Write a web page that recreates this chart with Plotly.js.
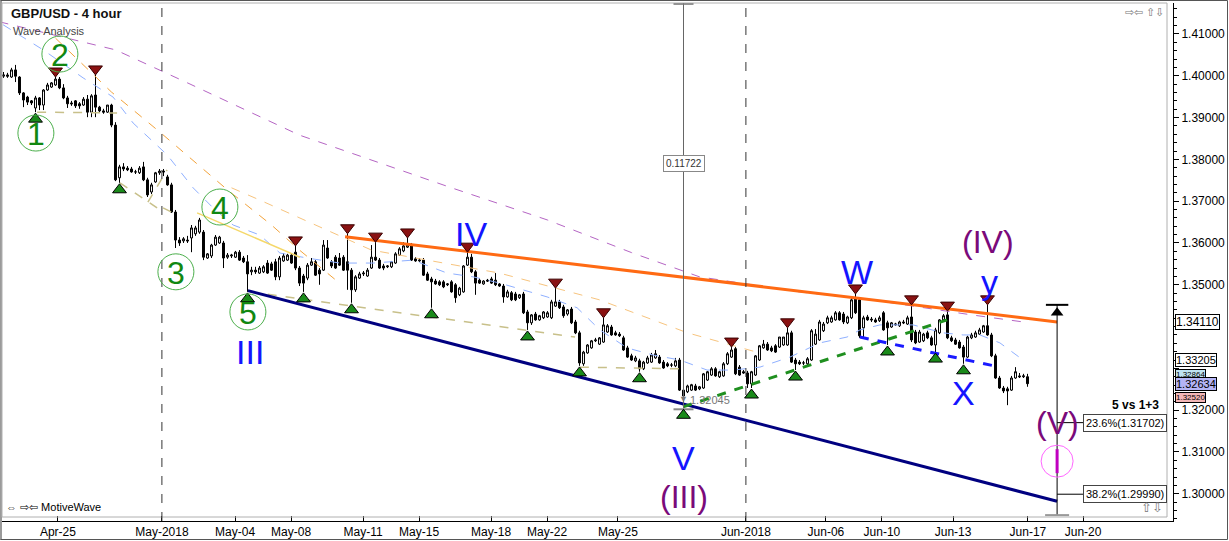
<!DOCTYPE html>
<html><head><meta charset="utf-8">
<script src="https://cdn.plot.ly/plotly-3.0.1.min.js"></script>
<style>html,body{margin:0;padding:0;background:#fff;}#chart{width:1229px;height:541px;}</style>
</head><body><div id="chart"></div>
<script>
// ---------------- DATA ----------------
const openP = [1.3999,1.4002,1.3997,1.4014,1.3997,1.3959,1.3949,1.3940,1.3923,1.3947,1.3930,1.3966,1.3973,1.3978,1.3992,1.3971,1.3947,1.3935,1.3940,1.3933,
1.3930,1.3944,1.3913,1.3954,1.3925,1.3916,1.3913,1.3930,1.3882,1.3756,1.3782,1.3779,1.3777,1.3770,1.3768,1.3782,1.3751,1.3722,1.3746,1.3768,
1.3772,1.3758,1.3739,1.3674,1.3607,1.3605,1.3607,1.3612,1.3622,1.3626,1.3626,1.3564,1.3569,1.3595,1.3600,1.3600,1.3566,1.3569,1.3566,1.3578,
1.3564,1.3555,1.3531,1.3535,1.3528,1.3531,1.3552,1.3550,1.3555,1.3519,1.3557,1.3559,1.3571,1.3578,1.3540,1.3521,1.3516,1.3547,1.3555,1.3535,
1.3535,1.3588,1.3555,1.3566,1.3564,1.3566,1.3555,1.3535,1.3488,1.3516,1.3526,1.3521,1.3540,1.3566,1.3559,1.3545,1.3543,1.3543,1.3552,1.3571,
1.3581,1.3590,1.3595,1.3562,1.3557,1.3559,1.3526,1.3514,1.3509,1.3507,1.3507,1.3500,1.3507,1.3500,1.3476,1.3483,1.3547,1.3566,1.3531,1.3511,
1.3502,1.3511,1.3514,1.3511,1.3502,1.3497,1.3471,1.3481,1.3478,1.3469,1.3478,1.3435,1.3409,1.3430,1.3416,1.3421,1.3423,1.3421,1.3449,1.3459,
1.3447,1.3430,1.3442,1.3411,1.3385,1.3311,1.3337,1.3349,1.3366,1.3358,1.3363,1.3387,1.3399,1.3385,1.3382,1.3373,1.3349,1.3330,1.3318,1.3318,
1.3299,1.3313,1.3315,1.3325,1.3327,1.3315,1.3311,1.3308,1.3306,1.3320,1.3248,1.3244,1.3248,1.3258,1.3251,1.3253,1.3272,1.3284,1.3299,1.3280,
1.3282,1.3311,1.3327,1.3347,1.3303,1.3292,1.3289,1.3263,1.3284,1.3320,1.3349,1.3358,1.3349,1.3354,1.3351,1.3356,1.3356,1.3385,1.3320,1.3315,
1.3313,1.3311,1.3320,1.3358,1.3368,1.3390,1.3409,1.3411,1.3416,1.3433,1.3430,1.3409,1.3421,1.3469,1.3464,1.3397,1.3423,1.3418,1.3416,1.3414,
1.3433,1.3409,1.3399,1.3404,1.3402,1.3411,1.3406,1.3423,1.3387,1.3363,1.3366,1.3385,1.3373,1.3356,1.3385,1.3416,1.3428,1.3373,1.3368,1.3363,
1.3351,1.3327,1.3373,1.3375,1.3382,1.3387,1.3402,1.3380,1.3330,1.3277,1.3253,1.3251,1.3248,1.3277,1.3282,1.3280,1.3280];
const highP = [1.4009,1.4007,1.4019,1.4026,1.3999,1.3961,1.3952,1.3942,1.3952,1.3949,1.3968,1.3983,1.3985,1.3997,1.3997,1.3980,1.3952,1.3940,1.3942,1.3937,
1.3949,1.3954,1.3956,1.4002,1.3928,1.3921,1.3930,1.3933,1.3889,1.3787,1.3791,1.3784,1.3782,1.3775,1.3784,1.3794,1.3756,1.3744,1.3770,1.3777,
1.3777,1.3763,1.3744,1.3679,1.3614,1.3614,1.3617,1.3643,1.3641,1.3660,1.3631,1.3576,1.3598,1.3619,1.3617,1.3605,1.3576,1.3574,1.3581,1.3583,
1.3569,1.3571,1.3543,1.3543,1.3545,1.3547,1.3559,1.3555,1.3562,1.3569,1.3576,1.3574,1.3576,1.3593,1.3545,1.3526,1.3552,1.3564,1.3559,1.3540,
1.3607,1.3607,1.3559,1.3571,1.3576,1.3571,1.3622,1.3540,1.3523,1.3531,1.3533,1.3540,1.3595,1.3602,1.3564,1.3550,1.3547,1.3557,1.3578,1.3590,
1.3602,1.3612,1.3600,1.3566,1.3564,1.3564,1.3531,1.3519,1.3514,1.3511,1.3511,1.3504,1.3511,1.3504,1.3495,1.3547,1.3578,1.3574,1.3535,1.3516,
1.3511,1.3514,1.3519,1.3528,1.3504,1.3502,1.3488,1.3485,1.3483,1.3478,1.3483,1.3440,1.3430,1.3435,1.3428,1.3437,1.3437,1.3464,1.3492,1.3464,
1.3452,1.3442,1.3447,1.3416,1.3390,1.3342,1.3358,1.3368,1.3373,1.3375,1.3421,1.3406,1.3404,1.3390,1.3387,1.3378,1.3354,1.3335,1.3330,1.3323,
1.3318,1.3330,1.3337,1.3344,1.3332,1.3320,1.3315,1.3313,1.3325,1.3325,1.3253,1.3261,1.3263,1.3263,1.3258,1.3289,1.3294,1.3303,1.3303,1.3294,
1.3315,1.3339,1.3351,1.3351,1.3308,1.3296,1.3294,1.3294,1.3332,1.3356,1.3368,1.3363,1.3354,1.3358,1.3375,1.3375,1.3397,1.3390,1.3325,1.3320,
1.3318,1.3327,1.3394,1.3394,1.3416,1.3411,1.3426,1.3426,1.3437,1.3437,1.3435,1.3426,1.3473,1.3478,1.3469,1.3426,1.3428,1.3423,1.3421,1.3426,
1.3437,1.3414,1.3411,1.3409,1.3414,1.3416,1.3426,1.3452,1.3392,1.3392,1.3385,1.3390,1.3378,1.3397,1.3418,1.3430,1.3437,1.3378,1.3373,1.3368,
1.3356,1.3378,1.3385,1.3390,1.3397,1.3404,1.3452,1.3385,1.3335,1.3282,1.3258,1.3256,1.3282,1.3303,1.3289,1.3287,1.3287];
const lowP = [1.3995,1.3995,1.3995,1.3985,1.3954,1.3925,1.3930,1.3930,1.3913,1.3918,1.3918,1.3964,1.3971,1.3976,1.3968,1.3944,1.3923,1.3928,1.3923,1.3921,
1.3928,1.3901,1.3901,1.3901,1.3911,1.3909,1.3911,1.3877,1.3748,1.3744,1.3772,1.3772,1.3768,1.3765,1.3765,1.3748,1.3710,1.3717,1.3744,1.3763,
1.3760,1.3737,1.3672,1.3588,1.3593,1.3600,1.3600,1.3578,1.3617,1.3622,1.3559,1.3562,1.3564,1.3593,1.3598,1.3540,1.3562,1.3564,1.3564,1.3557,
1.3552,1.3483,1.3523,1.3526,1.3526,1.3528,1.3526,1.3533,1.3511,1.3511,1.3555,1.3557,1.3550,1.3535,1.3497,1.3483,1.3511,1.3545,1.3521,1.3500,
1.3533,1.3562,1.3540,1.3538,1.3545,1.3533,1.3488,1.3457,1.3483,1.3514,1.3521,1.3519,1.3538,1.3557,1.3538,1.3535,1.3540,1.3540,1.3550,1.3569,
1.3578,1.3588,1.3557,1.3555,1.3555,1.3521,1.3509,1.3445,1.3500,1.3497,1.3492,1.3497,1.3481,1.3457,1.3473,1.3481,1.3545,1.3528,1.3476,1.3502,
1.3500,1.3507,1.3502,1.3497,1.3495,1.3457,1.3469,1.3461,1.3461,1.3466,1.3430,1.3392,1.3404,1.3414,1.3414,1.3418,1.3421,1.3418,1.3447,1.3442,
1.3421,1.3426,1.3406,1.3382,1.3306,1.3306,1.3335,1.3347,1.3363,1.3356,1.3361,1.3385,1.3378,1.3378,1.3375,1.3342,1.3325,1.3318,1.3315,1.3292,
1.3296,1.3311,1.3313,1.3323,1.3311,1.3299,1.3303,1.3303,1.3303,1.3246,1.32045,1.3241,1.3246,1.3246,1.3248,1.3251,1.3270,1.3282,1.3280,1.3277,
1.3280,1.3308,1.3325,1.3284,1.3282,1.3287,1.3253,1.3253,1.3282,1.3318,1.3347,1.3342,1.3339,1.3337,1.3349,1.3354,1.3354,1.3313,1.3296,1.3308,
1.3308,1.3306,1.3318,1.3356,1.3366,1.3387,1.3406,1.3409,1.3414,1.3414,1.3406,1.3406,1.3418,1.3430,1.3373,1.3373,1.3414,1.3411,1.3409,1.3411,
1.3390,1.3356,1.3397,1.3402,1.3399,1.3406,1.3404,1.3363,1.3358,1.3361,1.3363,1.3370,1.3354,1.3339,1.3382,1.3411,1.3370,1.3363,1.3356,1.3347,
1.3311,1.3325,1.3370,1.3373,1.3380,1.3385,1.3378,1.3327,1.3275,1.3251,1.3241,1.3212,1.3246,1.3275,1.3277,1.3277,1.3256];
const closeP = [1.4002,1.3999,1.4014,1.3999,1.3959,1.3942,1.3937,1.3935,1.3947,1.3930,1.3966,1.3978,1.3983,1.3992,1.3971,1.3947,1.3933,1.3933,1.3928,1.3928,
1.3944,1.3913,1.3952,1.3925,1.3916,1.3913,1.3930,1.3882,1.3751,1.3782,1.3777,1.3775,1.3770,1.3770,1.3779,1.3751,1.3715,1.3739,1.3768,1.3772,
1.3770,1.3739,1.3674,1.3607,1.3600,1.3610,1.3605,1.3636,1.3636,1.3655,1.3566,1.3574,1.3595,1.3614,1.3614,1.3564,1.3571,1.3571,1.3578,1.3559,
1.3555,1.3526,1.3535,1.3531,1.3540,1.3543,1.3528,1.3535,1.3519,1.3564,1.3569,1.3571,1.3552,1.3540,1.3504,1.3504,1.3547,1.3555,1.3523,1.3526,
1.3595,1.3564,1.3545,1.3540,1.3547,1.3535,1.3535,1.3488,1.3519,1.3526,1.3528,1.3535,1.3566,1.3559,1.3540,1.3540,1.3545,1.3555,1.3574,1.3586,
1.3593,1.3595,1.3559,1.3557,1.3559,1.3523,1.3511,1.3507,1.3502,1.3500,1.3495,1.3502,1.3483,1.3469,1.3492,1.3545,1.3566,1.3531,1.3504,1.3504,
1.3509,1.3509,1.3504,1.3500,1.3497,1.3471,1.3483,1.3464,1.3464,1.3476,1.3433,1.3409,1.3428,1.3416,1.3426,1.3435,1.3433,1.3459,1.3459,1.3445,
1.3426,1.3440,1.3409,1.3385,1.3313,1.3339,1.3356,1.3366,1.3368,1.3373,1.3404,1.3402,1.3380,1.3380,1.3378,1.3344,1.3327,1.3320,1.3325,1.3299,
1.3315,1.3325,1.3332,1.3335,1.3313,1.3301,1.3306,1.3308,1.3318,1.3248,1.3234,1.3258,1.3261,1.3248,1.3256,1.3287,1.3292,1.3299,1.3282,1.3292,
1.3311,1.3335,1.3344,1.3287,1.3284,1.3289,1.3263,1.3292,1.3330,1.3354,1.3358,1.3344,1.3342,1.3339,1.3375,1.3375,1.3385,1.3315,1.3311,1.3311,
1.3313,1.3323,1.3390,1.3382,1.3411,1.3406,1.3421,1.3421,1.3433,1.3416,1.3411,1.3423,1.3464,1.3433,1.3378,1.3421,1.3416,1.3416,1.3411,1.3421,
1.3392,1.3397,1.3409,1.3406,1.3411,1.3409,1.3421,1.3368,1.3361,1.3387,1.3382,1.3373,1.3356,1.3392,1.3416,1.3426,1.3373,1.3366,1.3358,1.3349,
1.3327,1.3375,1.3380,1.3385,1.3392,1.3402,1.3380,1.3330,1.3277,1.3253,1.3246,1.3246,1.3277,1.3292,1.3280,1.3282,1.32634];

// date axis labels (bar-index positions)
const tickPos  = [13.6,39.6,57.9,71.9,89.9,103.9,121.9,135.9,153.6,185.6,205.6,219.6,237.4,256.1,269.9];
const tickText = ['Apr-25','May-2018','May-04','May-08','May-11','May-15','May-18','May-22','May-25','Jun-2018','Jun-06','Jun-10','Jun-13','Jun-17','Jun-20'];
const monthStarts = ['May-2018','Jun-2018'];

// price axis labels (1.33000 and 1.34000 are hidden behind price tags in the original)
const yTickVals = [1.30,1.31,1.32,1.33,1.34,1.35,1.36,1.37,1.38,1.39,1.40,1.41];
const yTickText = ['1.30000','1.31000','1.32000','','','1.35000','1.36000','1.37000','1.38000','1.39000','1.40000','1.41000'];

// swing markers (bar indices)
const swingHighIdx = [13,23,73,86,93,101,116,138,150,182,196,213,227,236,246];
const swingLowIdx  = [8,29,61,75,87,107,131,144,159,170,187,198,221,233,240];

// moving averages (bar index, price)
const maPurpleX = [-1,28,46,74,112,136,157,174,199,217,242,255];
const maPurpleY = [1.4129,1.4062,1.3983,1.3858,1.3732,1.3655,1.3577,1.3519,1.3483,1.3464,1.3428,1.3411];
const maOrangeX = [13,27,39,56,67,74,84];
const maOrangeY = [1.4090,1.3961,1.3866,1.3727,1.3643,1.3583,1.3504];
const maLtOrangeX = [57,64,92,124,149,171,189];
const maLtOrangeY = [1.3732,1.3703,1.3583,1.3528,1.3464,1.3385,1.3337];
const maBlueX = [-0.1,9.9,19.9,27.4,32.4,40.9,47.4,52.4,57.4,64.1,69.1,75.9,84.1,92.4,102.4,110.9,117.4,124.1,135.9,143.4,149.1,155.9,162.4,169.1,175.9,182.4,189.1,196.6,204.1,210.9,214.1,219.1,227.4,234.9,239.9,244.1,249.1,254.9];
const maBlueY = [1.4122,1.4062,1.3995,1.3949,1.3887,1.3811,1.3732,1.3684,1.3643,1.3619,1.3576,1.3564,1.3552,1.3552,1.3559,1.3528,1.3519,1.3504,1.3471,1.3445,1.3392,1.3349,1.3332,1.3320,1.3296,1.3296,1.3303,1.3327,1.3361,1.3375,1.3392,1.3404,1.3404,1.3385,1.3380,1.3380,1.3361,1.3320];

// zig-zag helper lines (pairs of points)
const zigSegs = [
  [[8.4,28.4],[1.3913,1.3911]],
  [[29.1,38.4],[1.3744,1.3684]],
  [[36.1,40.9],[1.3698,1.3775]],
  [[39.9,43.4],[1.3684,1.3667]],
  [[61.6,142.9],[1.3483,1.3375]],
  [[144.1,169.1],[1.3303,1.3299]]
];
const yellowSegX = [48.4,74.1], yellowSegY = [1.3672,1.3566];

// trend lines
const resistX = [85.4,263.4], resistY = [1.3615,1.3411];
const supportX = [61.1,263.4], supportY = [1.3486,1.2982];
const greenLineX = [169.9,235.9], greenLineY = [1.3208,1.3416];
const blueLineX = [214.1,249.1], blueLineY = [1.3375,1.3303];

// measurement & fibonacci projection
const measureIdx = 170, measureSize = 0.11722;
const fibIdx = 263.4, fibTopIdx = 246, fibBottom = 1.2949;
const fibLevels = ['23.6%','38.2%'];
const fibValues = [1.31702,1.29990];
const fibLabelIdx = 269.9;

// right-axis price tags
const tagValues = [1.34110,1.33205,1.32864,1.32520,1.32634];
const tagColors = ['#ffffff','#ffffff','#bfe3f2','#f3b6b6','#b4b4f6'];
const tagFont   = [12,11,8,8,11];
const tagShift  = [0,0,0,-9,0];

// wave labels
const circLabels = [['1',8.1,1.3863],['2',14.1,1.4052],['3',43.1,1.3531],['4',54.1,1.3686],['5',61.1,1.3435]];
const blueLabels = [['III',61.6,1.3339],['IV',116.9,1.3621],['V',170.1,1.3086],['W',213.4,1.3531],['X',240.1,1.3241],['y',246.4,1.3507]];
const purpleLabels = [['(III)',170.1,1.2992],['(IV)',246.1,1.3602],['(V)',263.4,1.3170]];

// ---------------- BUILD ----------------
const xIdx = openP.map((_, i) => i);
const FONT = 'Liberation Sans, Arial, sans-serif';
const PX_Y = 1/4180;         // price per pixel
const traces = [];
const dashLine = (x,y,color,w,dash) => ({type:'scatter',mode:'lines',x,y,line:{color,width:w,dash},hoverinfo:'skip'});

traces.push(dashLine(maPurpleX,maPurpleY,'#b565c4',1,'dash'));
traces.push(dashLine(maOrangeX,maOrangeY,'#f3a33b',1,'dash'));
traces.push(dashLine(maLtOrangeX,maLtOrangeY,'#f7c47e',1,'dash'));
traces.push(dashLine(maBlueX,maBlueY,'#8fb0ff',1,'dash'));
zigSegs.forEach(s => traces.push(dashLine(s[0],s[1],'#c8c08a',1.5,'dash')));
traces.push(dashLine(yellowSegX,yellowSegY,'#f5d86a',1.5,'solid'));

traces.push({type:'candlestick',x:xIdx,open:openP,high:highP,low:lowP,close:closeP,
  increasing:{line:{color:'#000',width:1},fillcolor:'#ffffff'},
  decreasing:{line:{color:'#000',width:1},fillcolor:'#000000'},
  whiskerwidth:0,hoverinfo:'skip',showlegend:false});

traces.push(dashLine(resistX,resistY,'#ff6a13',3,'solid'));
traces.push(dashLine(supportX,supportY,'#000080',3,'solid'));
traces.push(dashLine(greenLineX,greenLineY,'#1f8f1f',3,'dash'));
traces.push(dashLine(blueLineX,blueLineY,'#1a1aff',3,'dash'));

// measurement line
const mLow = lowP[measureIdx];
traces.push(dashLine([measureIdx,measureIdx],[mLow,mLow+measureSize],'#666',1,'solid'));
traces.push(dashLine([measureIdx-2.5,measureIdx+2.5],[mLow-1*PX_Y,mLow-1*PX_Y],'#888',2,'solid'));

// fib projection
const fibTop = highP[fibTopIdx];
traces.push(dashLine([fibIdx,fibIdx],[fibTop,fibBottom],'#000',1,'solid'));
traces.push(dashLine([fibIdx-2.8,fibIdx+2.8],[fibTop,fibTop],'#000',2,'solid'));
traces.push(dashLine([fibIdx-3,fibIdx+3],[fibBottom,fibBottom],'#999',2,'solid'));
fibValues.forEach(v => traces.push(dashLine([fibIdx,fibLabelIdx],[v,v],'#000',1,'solid')));
traces.push({type:'scatter',mode:'markers',x:[fibIdx],y:[fibTop-8*PX_Y],marker:{symbol:'triangle-up',size:11,color:'#000'},hoverinfo:'skip'});

// swing markers
traces.push({type:'scatter',mode:'markers',x:swingHighIdx,y:swingHighIdx.map(i=>highP[i]+6*PX_Y),
  marker:{symbol:'triangle-down',size:12,color:'#8a1212',line:{color:'#3a0000',width:1}},hoverinfo:'skip'});
traces.push({type:'scatter',mode:'markers',x:swingLowIdx,y:swingLowIdx.map(i=>lowP[i]-7*PX_Y),
  marker:{symbol:'triangle-up',size:12,color:'#1a8a1a',line:{color:'#000',width:1}},hoverinfo:'skip'});

// ---------------- SHAPES ----------------
const shapes = [];
// outer window frame
shapes.push({type:'rect',xref:'paper',yref:'paper',x0:(0.5-2)/1171,x1:(1227.5-2)/1171,y0:(521-539.5)/518,y1:(521-0.5)/518,line:{color:'#555',width:1}});
shapes.push({type:'line',xref:'paper',yref:'paper',x0:(1-2)/1171,x1:(1-2)/1171,y0:(521-539)/518,y1:(521-1)/518,line:{color:'#9a9a9a',width:2}});
// inner frame
shapes.push({type:'rect',xref:'paper',yref:'paper',x0:0,x1:(1167-2)/1171,y0:(521-517)/518,y1:1,line:{color:'#b0b0b0',width:1}});
// month separators
monthStarts.forEach(m => { const p = tickPos[tickText.indexOf(m)];
  shapes.push({type:'line',xref:'x',yref:'paper',x0:p,x1:p,y0:0,y1:1,line:{color:'#333',width:1,dash:'dash'}}); });
// measurement top cap
shapes.push({type:'line',xref:'x',yref:'paper',x0:measureIdx-2.5,x1:measureIdx+2.5,y0:0.998,y1:0.998,line:{color:'#777',width:1.5}});
// pink circle with I
const ccY = 1.3078;
shapes.push({type:'circle',xref:'x',yref:'y',x0:fibIdx-4,x1:fibIdx+4,y0:ccY-16*PX_Y,y1:ccY+16*PX_Y,line:{color:'#ff66ff',width:1}});
shapes.push({type:'line',xref:'x',yref:'y',x0:fibIdx,x1:fibIdx,y0:ccY-12*PX_Y,y1:ccY+12*PX_Y,line:{color:'#c000c0',width:3}});
// green circles
circLabels.forEach(c => shapes.push({type:'circle',xref:'x',yref:'y',x0:c[1]-4.5,x1:c[1]+4.5,y0:c[2]-18*PX_Y,y1:c[2]+18*PX_Y,line:{color:'#4caf4c',width:1}}));

// ---------------- ANNOTATIONS ----------------
const ann = [];
const txt = (text,x,y,size,color,extra) => Object.assign({text,x,y,xref:'x',yref:'y',showarrow:false,font:{family:FONT,size,color}},extra||{});
circLabels.forEach(c => ann.push(txt(c[0],c[1],c[2],32,'#118811',{yshift:-1})));
blueLabels.forEach(c => ann.push(txt(c[0],c[1],c[2],34,'#1414ff')));
purpleLabels.forEach(c => ann.push(txt(c[0],c[1],c[2],32,'#7a0a7a')));
// measurement label
ann.push(txt(measureSize.toFixed(5),measureIdx,mLow+measureSize/2,10,'#333',{bgcolor:'#fff',bordercolor:'#888',borderwidth:1,borderpad:2}));
ann.push(txt('▼',measureIdx,mLow,9,'#777',{yshift:9}));
ann.push(txt(mLow.toFixed(5),measureIdx,mLow,11,'#777',{xanchor:'left',xshift:4,yshift:8}));
// fib labels
fibValues.forEach((v,i) => ann.push(txt(fibLevels[i]+'('+v.toFixed(5)+')',fibLabelIdx,v,11,'#000',{xanchor:'left',bgcolor:'#fff',bordercolor:'#444',borderwidth:1,borderpad:2})));
ann.push({text:'<b>5 vs 1+3</b>',xref:'paper',yref:'y',x:(1161-2)/1171,y:1.3212,xanchor:'right',showarrow:false,font:{family:FONT,size:12,color:'#000'}});
// price tags
tagValues.forEach((v,i) => ann.push({text:v.toFixed(5),xref:'paper',yref:'y',x:1,y:v,xanchor:'left',xshift:2,yshift:tagShift[i],showarrow:false,
  font:{family:FONT,size:tagFont[i],color:'#000'},bgcolor:tagColors[i],bordercolor:'#000',borderwidth:1,borderpad:0}));
// titles / branding
ann.push({text:'<b>GBP/USD - 4 hour</b>',xref:'paper',yref:'paper',x:(9-2)/1171,y:(521-14)/518,xanchor:'left',yanchor:'middle',showarrow:false,font:{family:FONT,size:13,color:'#111'}});
ann.push({text:'Wave Analysis',xref:'paper',yref:'paper',x:(11-2)/1171,y:(521-31)/518,xanchor:'left',yanchor:'middle',showarrow:false,font:{family:FONT,size:11,color:'#444'}});
ann.push({text:'⇔ ⇨⇦ MotiveWave',xref:'paper',yref:'paper',x:(4-2)/1171,y:(521-507)/518,xanchor:'left',yanchor:'middle',showarrow:false,font:{family:FONT,size:11,color:'#000'}});
ann.push({text:'⇨⇦ ⇧⇩',xref:'paper',yref:'paper',x:(1166-2)/1171,y:(521-12)/518,xanchor:'right',yanchor:'middle',showarrow:false,font:{family:FONT,size:11,color:'#777'}});
ann.push({text:'⇧⇩',xref:'paper',yref:'paper',x:(1165-2)/1171,y:(521-507)/518,xanchor:'right',yanchor:'middle',showarrow:false,font:{family:FONT,size:13,color:'#777'}});

const layout = {
  width:1229,height:541,margin:{l:2,r:56,t:3,b:20},
  paper_bgcolor:'#fff',plot_bgcolor:'#fff',showlegend:false,hovermode:false,
  font:{family:FONT,size:12,color:'#000'},
  xaxis:{range:[-0.375,292.375],tickvals:tickPos,ticktext:tickText,ticks:'inside',ticklen:5,tickcolor:'#000',
    showgrid:false,zeroline:false,showline:true,linecolor:'#000',linewidth:1,rangeslider:{visible:false},
    tickfont:{family:FONT,size:12,color:'#000'},fixedrange:true},
  yaxis:{range:[1.29349,1.41741],side:'right',tickvals:yTickVals,ticktext:yTickText,ticks:'outside',ticklen:5,tickcolor:'#000',
    minor:{dtick:0.002,tick0:1.30,ticks:'outside',ticklen:3,tickcolor:'#000',showgrid:false},
    showgrid:false,zeroline:false,showline:true,linecolor:'#000',linewidth:1,
    tickfont:{family:FONT,size:12,color:'#000'},fixedrange:true},
  shapes,annotations:ann
};
Plotly.newPlot('chart',traces,layout,{staticPlot:true,displayModeBar:false});
</script></body></html>
